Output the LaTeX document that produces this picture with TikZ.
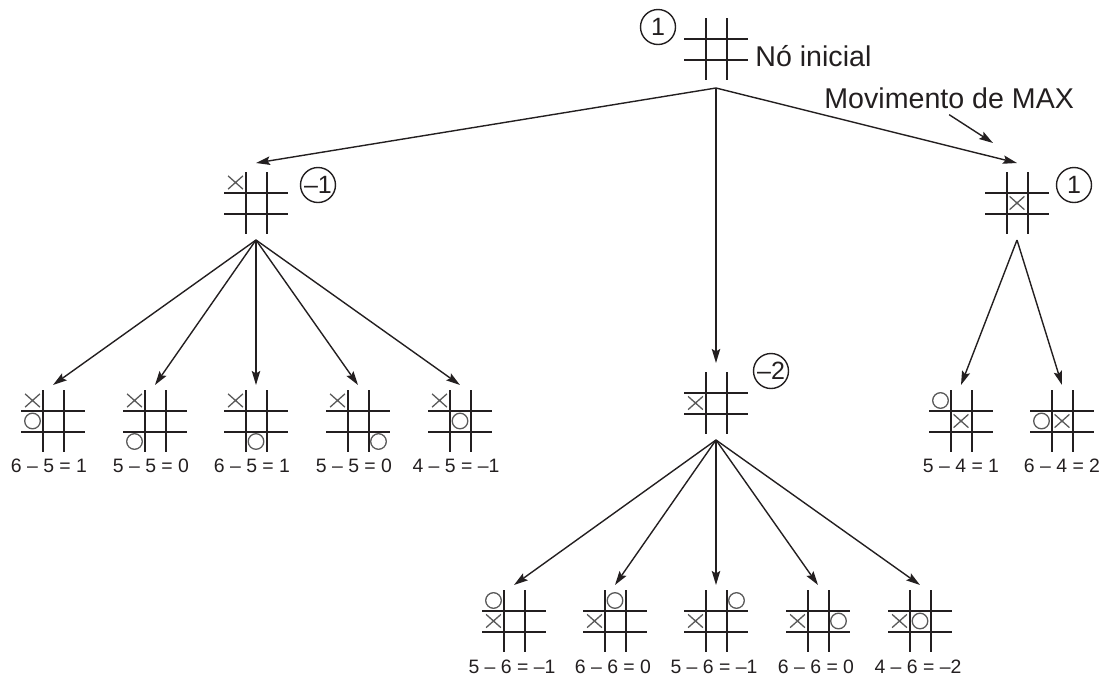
\documentclass[tikz,border=0pt]{standalone}
\usepackage{fontspec}
\setmainfont{Liberation Sans}
\usetikzlibrary{arrows.meta}
\definecolor{ink}{HTML}{231F20}
\definecolor{markgray}{HTML}{5A5A5A}
\tikzset{board/.style={minimum width=32pt, minimum height=31pt, inner sep=0pt, outer sep=0pt},
         gridline/.style={draw=ink, line width=1pt},
         markline/.style={draw=markgray, line width=0.65pt},
         arr/.style={draw=ink, line width=0.7pt, -{Stealth[length=7pt,width=4.2pt,inset=1.2pt]}},
         val/.style={circle, draw=ink, line width=0.7pt, minimum size=17.5pt, inner sep=0pt,
                     text=ink, font=\fontsize{12.5}{14}\selectfont},
         bigtxt/.style={inner sep=0pt, text=ink, font=\fontsize{14.3}{17}\selectfont},
         score/.style={inner sep=0pt, anchor=base, text=ink, font=\fontsize{9.7}{11}\selectfont}}
% board lines, X and O marks (column, row in -1..1)
\newcommand\grid[1]{%
  \foreach \d in {-10.5,10.5} {
    \draw[gridline] (#1.center) ++(\d,-31) -- ++(0,62);
    \draw[gridline] (#1.center) ++(-32,\d) -- ++(64,0);
  }}
\newcommand\putX[3]{\draw[markline] (#1.center) ++(#2*20.5,#3*20.5) +(-7.4,-6.6) -- +(7.4,6.6) +(-7.4,6.6) -- +(7.4,-6.6);}
\newcommand\putO[3]{\draw[markline] (#1.center) ++(#2*20.5,#3*20.5) circle[radius=7.8];}

\begin{document}
\begin{tikzpicture}[x=0.5pt,y=-0.5pt]
  \useasboundingbox (0,0) rectangle (1110,681);

  % root and first move
  \node[board] (root) at (716,49) {};
  \node[board] (lft) at (256,203) {};
  \node[board] (mid) at (716,403) {};
  \node[board] (rgt) at (1017,203) {};
  \grid{root} \grid{lft} \grid{mid} \grid{rgt}
  \putX{lft}{-1}{-1}
  \putX{mid}{-1}{0}
  \putX{rgt}{0}{0}

  \node[val] (vroot) at (658,27) {1};
  \node[val] (vlft) at (318,185) {–1};
  \node[val] (vmid) at (771,371) {–2};
  \node[val] (vrgt) at (1074,185) {1};

  \node[bigtxt, anchor=base west] (startlbl) at (755,66) {Nó inicial};
  \node[bigtxt, anchor=base west] (maxlbl) at (824,108) {Movimento de MAX};
  \coordinate (maxtip) at (993,143);
  \draw[arr] ([yshift=-3pt]maxlbl.south) -- (maxtip);

  \foreach \n in {lft,mid,rgt}
    \draw[arr] ([yshift=-4pt]root.south) -- ([yshift=4.5pt]\n.north);

  % replies to X in the corner
  \foreach \x/\oc/\orow/\lbl [count=\i] in {53/-1/0/{6 – 5 = 1}, 155/-1/1/{5 – 5 = 0},
      256/0/1/{6 – 5 = 1}, 358/1/1/{5 – 5 = 0}, 460/0/0/{4 – 5 = –1}} {
    \node[board] (ll\i) at (\x,421) {};
    \grid{ll\i}
    \putX{ll\i}{-1}{-1}
    \putO{ll\i}{\oc}{\orow}
    \node[score] (sl\i) at (\x-4,472) {\lbl};
    \draw[arr] ([yshift=-3pt]lft.south) -- ([yshift=2.5pt]ll\i.north);
  }

  % replies to X on the edge
  \foreach \x/\oc/\orow/\lbl [count=\i] in {514/-1/-1/{5 – 6 = –1}, 615/0/-1/{6 – 6 = 0},
      716/1/-1/{5 – 6 = –1}, 818/1/0/{6 – 6 = 0}, 920/0/0/{4 – 6 = –2}} {
    \node[board] (ml\i) at (\x,621) {};
    \grid{ml\i}
    \putX{ml\i}{-1}{0}
    \putO{ml\i}{\oc}{\orow}
    \node[score] (sm\i) at (\x-2,673) {\lbl};
    \draw[arr] ([yshift=-3pt]mid.south) -- ([yshift=2.5pt]ml\i.north);
  }

  % replies to X in the centre
  \foreach \x/\oc/\orow/\lbl [count=\i] in {961/-1/-1/{5 – 4 = 1}, 1062/-1/0/{6 – 4 = 2}} {
    \node[board] (rl\i) at (\x,421) {};
    \grid{rl\i}
    \putX{rl\i}{0}{0}
    \putO{rl\i}{\oc}{\orow}
    \node[score] (sr\i) at (\x,472) {\lbl};
    \draw[arr] ([yshift=-3pt]rgt.south) -- ([yshift=2.5pt]rl\i.north);
  }
\end{tikzpicture}
\end{document}
